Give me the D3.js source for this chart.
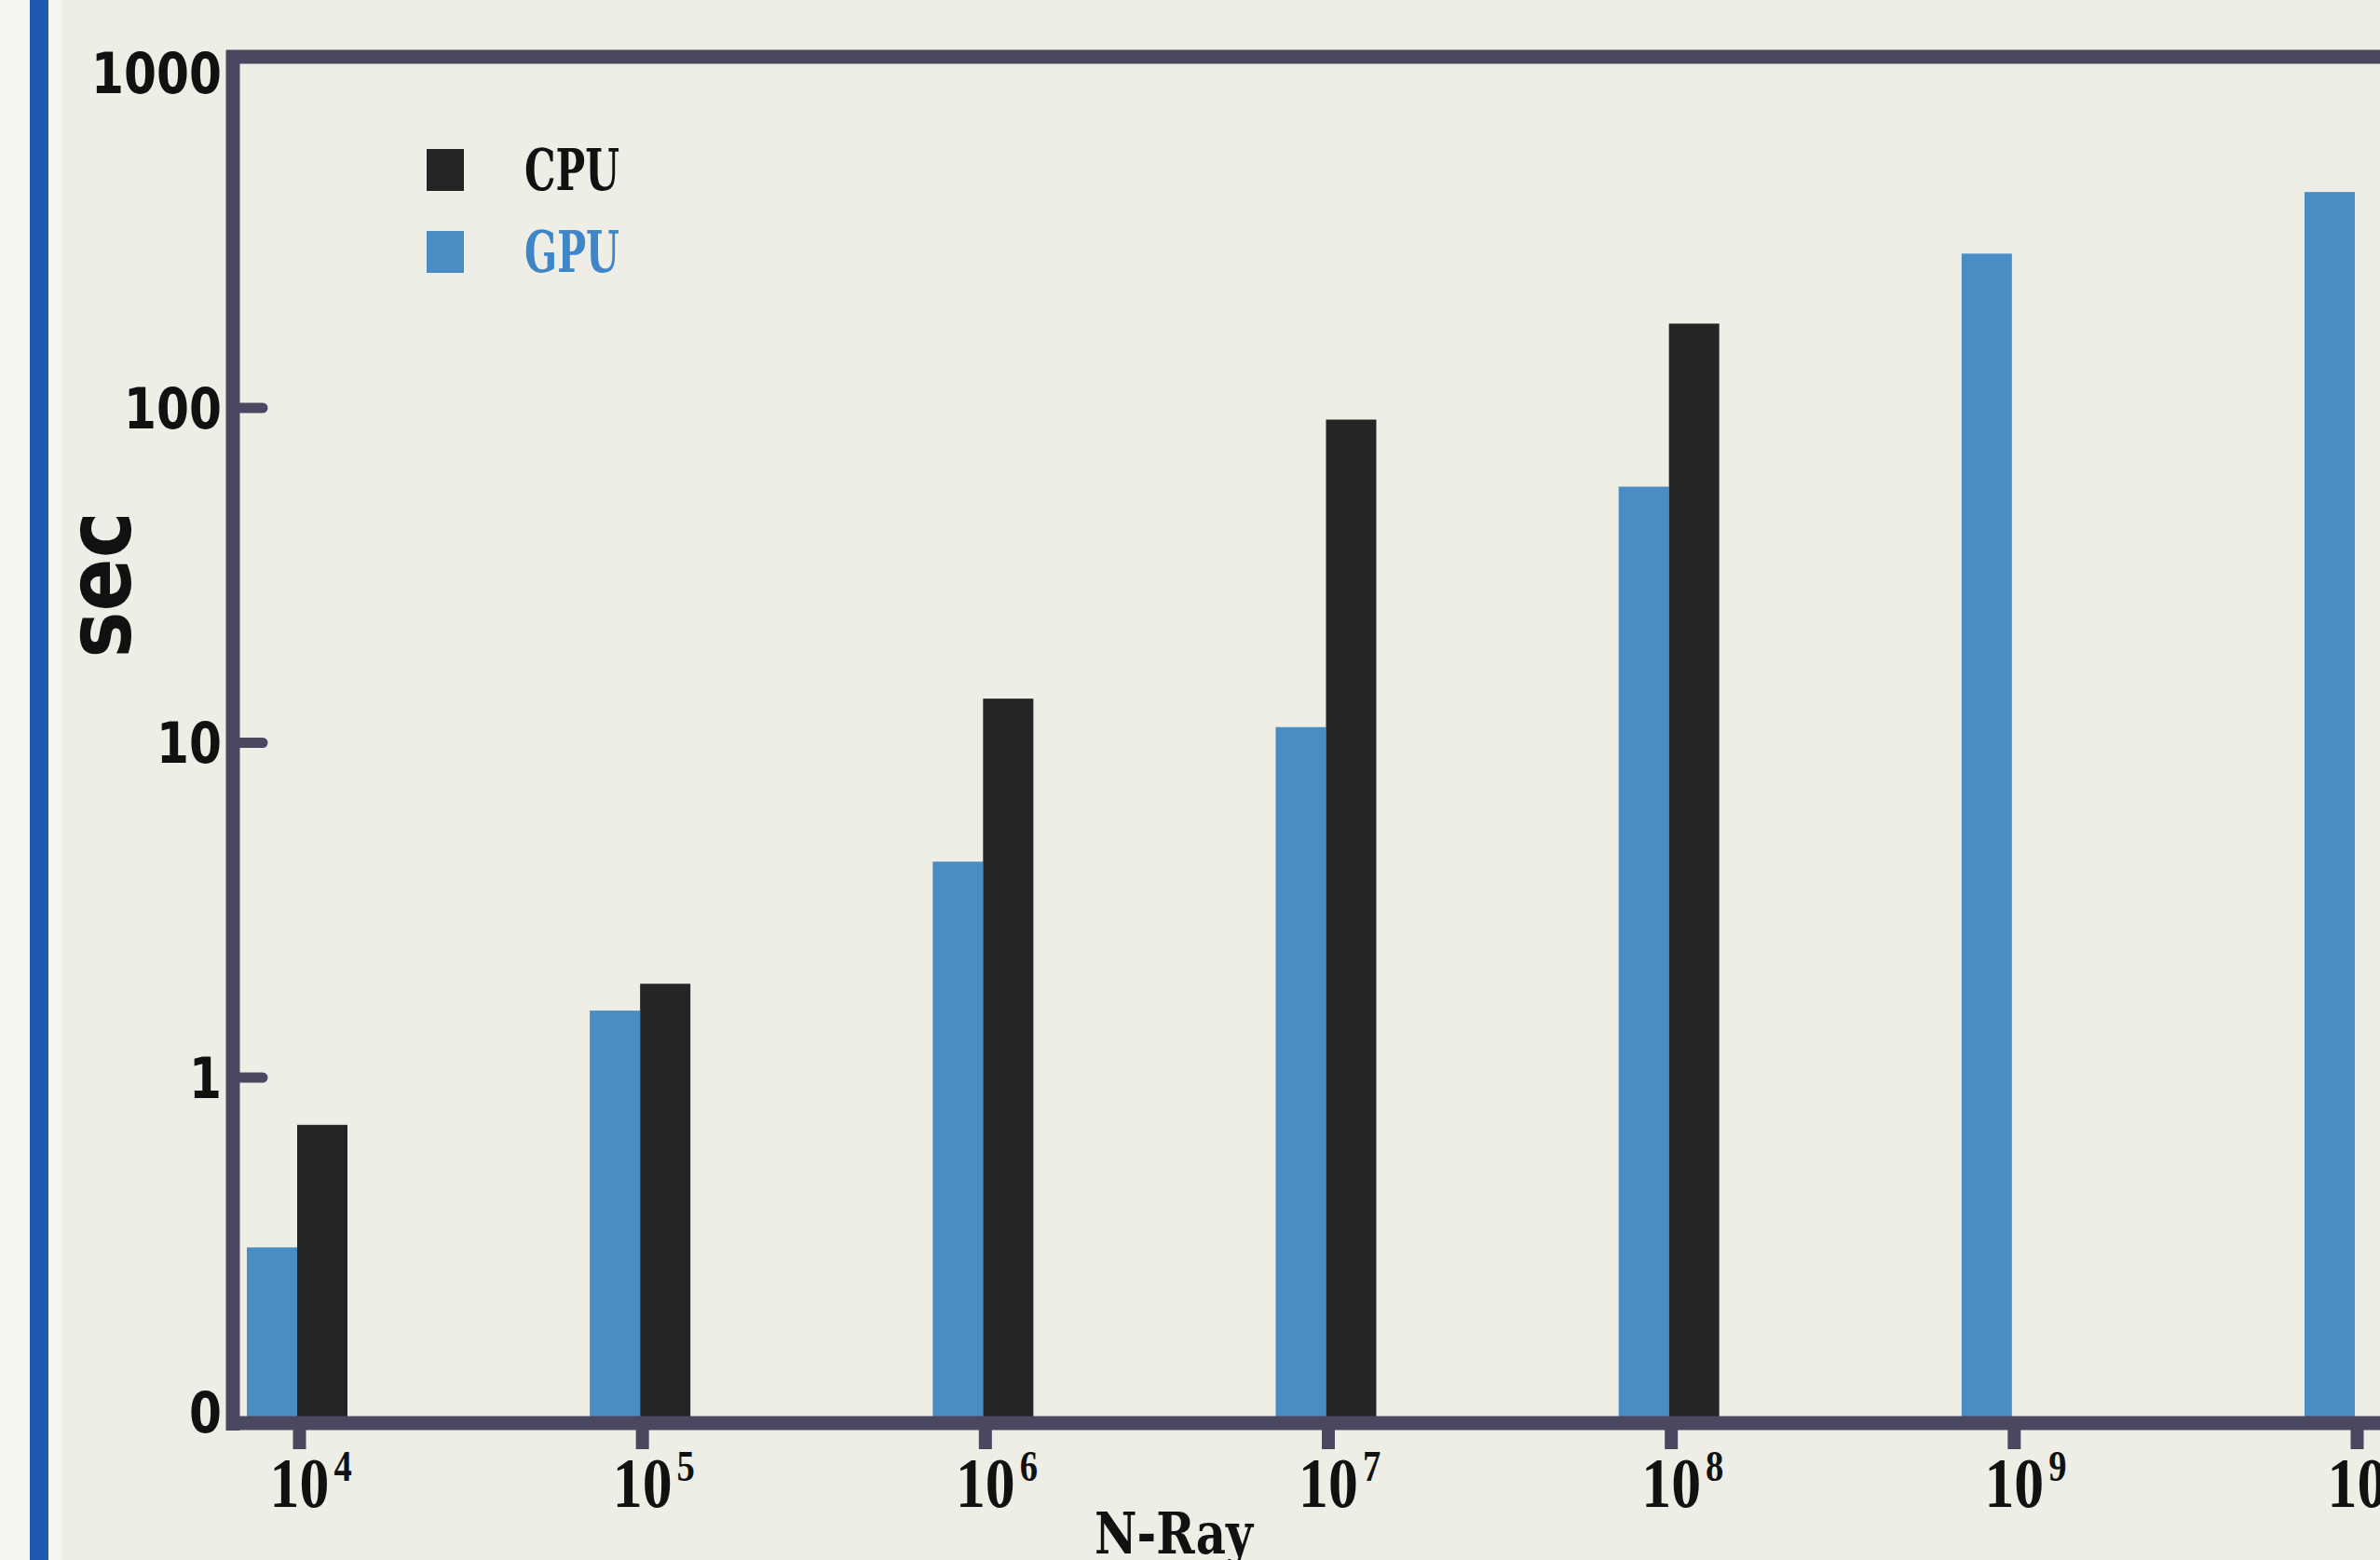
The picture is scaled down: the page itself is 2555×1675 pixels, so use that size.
<!DOCTYPE html>
<html>
<head>
<meta charset="utf-8">
<script src="https://cdn.jsdelivr.net/npm/d3@7"></script>
<style>
  body { margin: 0; background: #eeeee6; }
  svg { display: block; }
</style>
</head>
<body>
<div id="chart"></div>
<script>
// exponents of N-Ray (10^n)
const exponents = [4, 5, 6, 7, 8, 9, 10];
const gpuTimes = [0.31, 1.58, 4.4, 11.1, 58, 288, 440];
const cpuTimes = [0.72, 1.9, 13.5, 92, 178, null, null];
const series = ['GPU', 'CPU'];
const yTickValues = [0.1, 1, 10, 100, 1000];
const yTickLabels = ['0', '1', '10', '100', '1000'];

const W = 2555, H = 1675;
const AXIS_X = 250, AXIS_Y = 1528, TOP_Y = 61;
const AXIS_COLOR = '#4a4760';
const COLORS = {GPU: '#4a8cc4', CPU: '#252525'};

const svg = d3.select('#chart')
  .append('svg')
    .attr('width', W)
    .attr('height', H);

svg.append('rect')
  .attr('width', W).attr('height', H)
  .attr('fill', '#eeeee6');

// left page strip and blue rule
svg.append('rect')
  .attr('x', 0).attr('y', 0).attr('width', 66).attr('height', H)
  .attr('fill', '#f5f5f1');
svg.append('rect')
  .attr('x', 32).attr('y', 0).attr('width', 20).attr('height', H)
  .attr('fill', '#2159b0');

const x = d3.scalePoint()
  .domain(exponents)
  .range([321, 2530]);

const xInner = d3.scaleBand()
  .domain(series)
  .range([-54, 54]);

const y = d3.scaleLog()
  .domain([0.1, 1000])
  .range([1516, 78]);

const data = exponents.map((e, i) => ({e, GPU: gpuTimes[i], CPU: cpuTimes[i]}));

// bars
const groups = svg.selectAll('g.group')
  .data(data)
  .enter().append('g')
    .attr('class', 'group')
    .attr('transform', d => `translate(${x(d.e) - 2}, 0)`);

groups.selectAll('rect')
  .data(d => series.filter(s => d[s] != null).map(s => ({s, v: d[s]})))
  .enter().append('rect')
    .attr('x', d => xInner(d.s))
    .attr('width', xInner.bandwidth())
    .attr('y', d => y(d.v))
    .attr('height', d => AXIS_Y - y(d.v))
    .attr('fill', d => COLORS[d.s]);

// frame lines
svg.append('line')
  .attr('x1', AXIS_X - 7).attr('x2', W)
  .attr('y1', TOP_Y).attr('y2', TOP_Y)
  .attr('stroke', AXIS_COLOR).attr('stroke-width', 15);
svg.append('line')
  .attr('x1', AXIS_X).attr('x2', AXIS_X)
  .attr('y1', TOP_Y - 7).attr('y2', AXIS_Y + 8)
  .attr('stroke', AXIS_COLOR).attr('stroke-width', 15);

// y axis
const yAxisGroup = svg.append('g')
  .attr('transform', `translate(${AXIS_X}, 0)`)
  .call(d3.axisLeft(y)
    .tickValues(yTickValues)
    .tickFormat((d, i) => yTickLabels[i])
    .tickSize(-36)
    .tickPadding(12));

yAxisGroup.select('.domain').remove();
yAxisGroup.selectAll('.tick line')
  .attr('stroke', AXIS_COLOR)
  .attr('stroke-width', 11)
  .attr('stroke-linecap', 'round')
  .attr('x1', 6)
  .attr('x2', 32)
  .filter(d => d === 0.1 || d === 1000).remove();
yAxisGroup.selectAll('.tick text')
  .attr('font-family', "'DejaVu Sans', sans-serif")
  .attr('font-weight', 'bold')
  .attr('font-size', 60)
  .attr('textLength', (d, i) => yTickLabels[i].length * 35)
  .attr('lengthAdjust', 'spacingAndGlyphs')
  .attr('fill', '#111')
  .attr('dy', '0.36em');

// x axis
const xAxisGroup = svg.append('g')
  .attr('transform', `translate(0, ${AXIS_Y})`)
  .call(d3.axisBottom(x).tickSize(28).tickFormat(''));

xAxisGroup.select('.domain').remove();
xAxisGroup.selectAll('.tick line')
  .attr('stroke', AXIS_COLOR)
  .attr('stroke-width', 14);

const tickText = xAxisGroup.selectAll('.tick text')
  .attr('y', 90)
  .attr('dy', 0)
  .attr('x', -38)
  .attr('text-anchor', 'start')
  .attr('font-family', "'Liberation Serif', serif")
  .attr('font-weight', 'bold')
  .attr('font-size', 76)
  .attr('fill', '#111')
  .attr('transform', 'scale(0.84,1)');
tickText.append('tspan').text('10');
tickText.append('tspan')
  .attr('dx', 6)
  .attr('dy', -28)
  .attr('font-size', 46)
  .text(d => d);

// bottom axis line drawn on top
svg.append('line')
  .attr('x1', AXIS_X - 7).attr('x2', W)
  .attr('y1', AXIS_Y).attr('y2', AXIS_Y)
  .attr('stroke', AXIS_COLOR).attr('stroke-width', 15);

// axis titles
svg.append('text')
  .attr('transform', 'translate(140, 628) rotate(-90)')
  .attr('text-anchor', 'middle')
  .attr('font-family', "'DejaVu Sans', sans-serif")
  .attr('font-weight', 'bold')
  .attr('font-size', 96)
  .attr('textLength', 157)
  .attr('lengthAdjust', 'spacingAndGlyphs')
  .attr('fill', '#111')
  .text('sec');

svg.append('text')
  .attr('x', 1175)
  .attr('y', 1668)
  .attr('font-family', "'DejaVu Serif', serif")
  .attr('font-weight', 'bold')
  .attr('font-size', 62)
  .attr('textLength', 170)
  .attr('lengthAdjust', 'spacingAndGlyphs')
  .attr('fill', '#111')
  .text('N-Ray');

// legend
const legendItems = [
  {name: 'CPU', y: 160, color: COLORS.CPU, text: '#111'},
  {name: 'GPU', y: 248, color: COLORS.GPU, text: '#3f86c8'}
];
const legend = svg.selectAll('g.legend')
  .data(legendItems)
  .enter().append('g')
    .attr('class', 'legend')
    .attr('transform', d => `translate(458, ${d.y})`);
legend.append('rect')
  .attr('width', 40).attr('height', 45)
  .attr('fill', d => d.color);
legend.append('text')
  .attr('x', 105)
  .attr('y', 44)
  .attr('font-family', "'DejaVu Serif Condensed', 'DejaVu Serif', serif")
  .attr('font-weight', 'bold')
  .attr('font-size', 62)
  .attr('textLength', 102)
  .attr('lengthAdjust', 'spacingAndGlyphs')
  .attr('fill', d => d.text)
  .text(d => d.name);
</script>
</body>
</html>
